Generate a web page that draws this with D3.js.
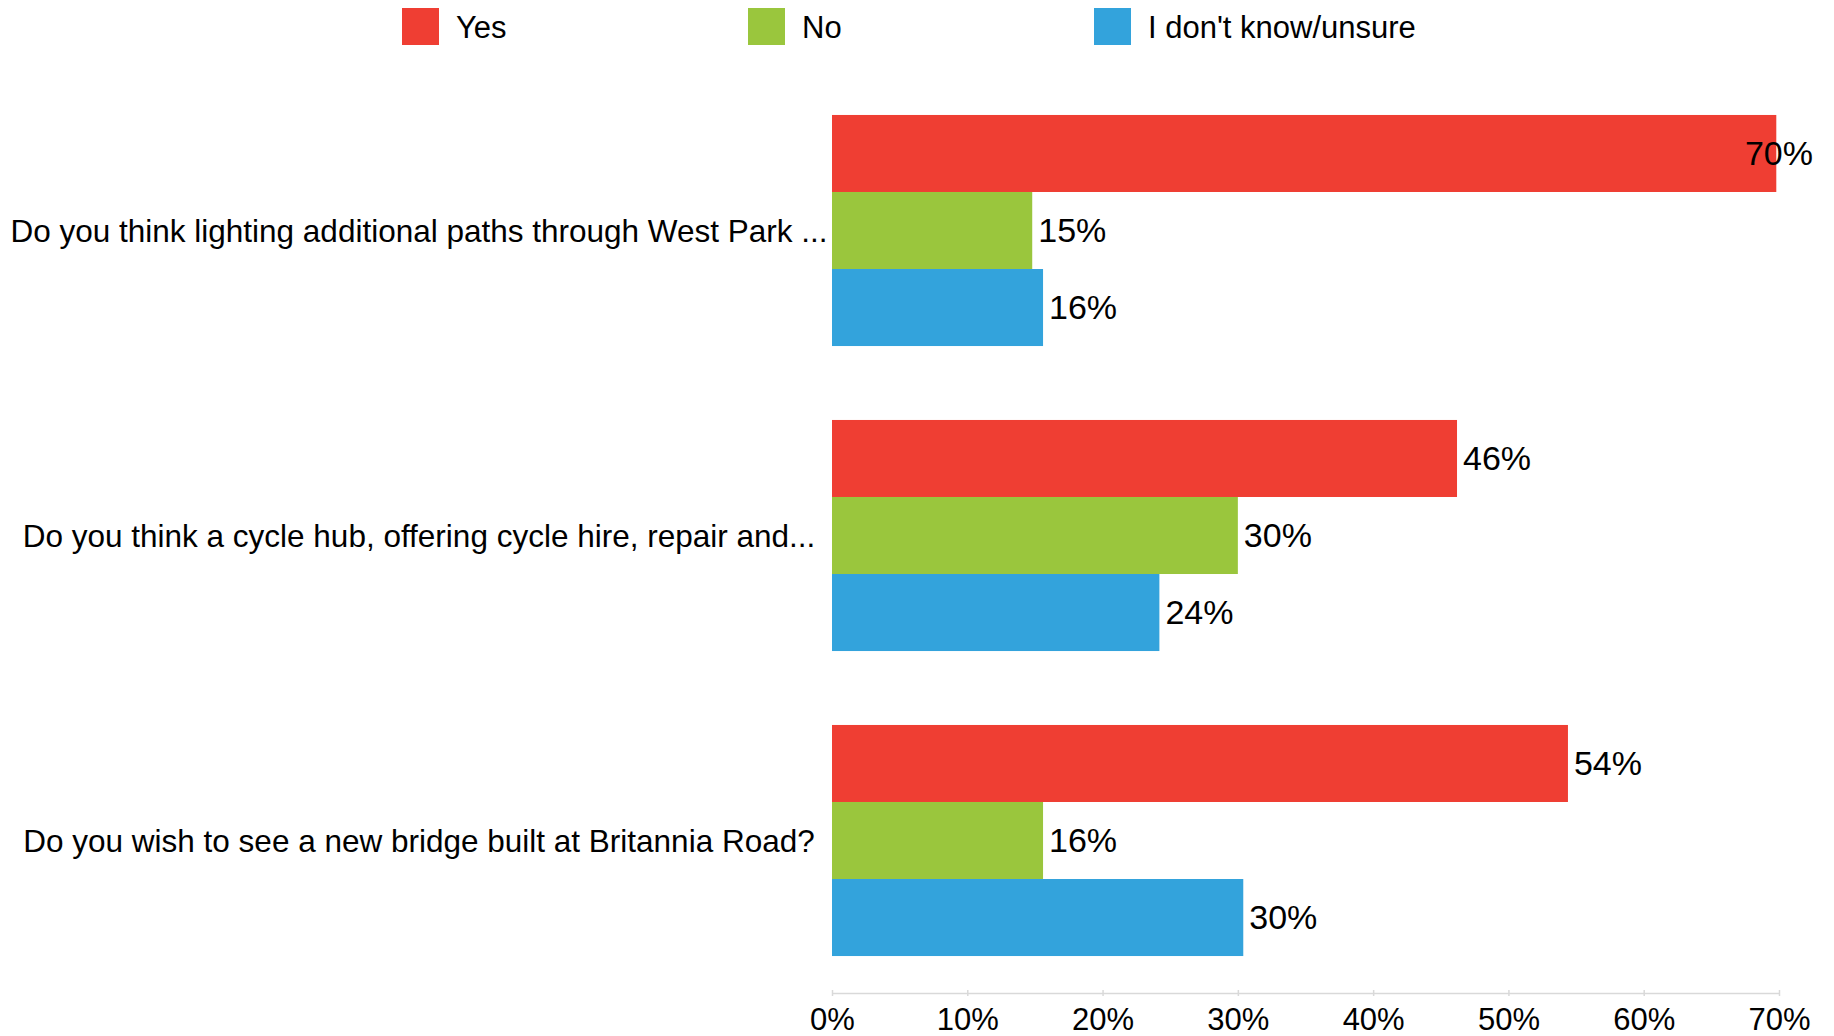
<!DOCTYPE html>
<html>
<head>
<meta charset="utf-8">
<script src="https://cdn.jsdelivr.net/npm/d3@7"></script>
<style>
  html, body { margin: 0; padding: 0; background: #fff; }
  svg { display: block; font-family: "Liberation Sans", Arial, sans-serif; }
</style>
</head>
<body>
<svg id="chart" width="1834" height="1036"></svg>
<script>
// Survey questions (one group of bars each)
const questions = [
  "Do you think lighting additional paths through West Park ...",
  "Do you think a cycle hub, offering cycle hire, repair and...",
  "Do you wish to see a new bridge built at Britannia Road?"
];

// Answer options
const answers = ["Yes", "No", "I don't know/unsure"];

// Share of respondents (%) per question, one array per answer
const yesValues    = [69.8, 46.2, 54.4];
const noValues     = [14.8, 30.0, 15.6];
const unsureValues = [15.6, 24.2, 30.4];

// X axis tick values (%)
const tickValues = [0, 10, 20, 30, 40, 50, 60, 70];

const colors = ["#EF3E33", "#9AC63D", "#33A3DC"];

const series = [yesValues, noValues, unsureValues];
const rows = questions.map((q, i) => ({
  question: q,
  values: answers.map((a, j) => ({ answer: a, value: series[j][i] }))
}));

const svg = d3.select("#chart");
const W = 1834, H = 1036;
const margin = { top: 78, right: 55, bottom: 43, left: 832 };

const x = d3.scaleLinear().domain([0, 70]).range([margin.left, W - margin.right]);
const y0 = d3.scaleBand().domain(questions).range([margin.top, H - margin.bottom]).padding(0);
const y1 = d3.scaleBand().domain(answers).range([0, y0.bandwidth()]).paddingInner(0).paddingOuter(0.48);
const color = d3.scaleOrdinal().domain(answers).range(colors);

const legendFont = 31;
const questionFont = 31.5;
const valueFont = 34;
const tickFont = 31;

// Legend
const legend = svg.append("g").attr("class", "legend");
const legendX = d3.scalePoint().domain(answers).range([402, 1094]);
answers.forEach(a => {
  const g = legend.append("g").attr("transform", `translate(${legendX(a)},8)`);
  g.append("rect").attr("width", 37).attr("height", 37).attr("fill", color(a));
  g.append("text").attr("x", 54).attr("y", 19).attr("dy", "0.35em")
    .attr("font-size", legendFont).attr("fill", "#000").text(a);
});

// Bars
const groups = svg.append("g").selectAll("g.group").data(rows).join("g")
  .attr("class", "group")
  .attr("transform", d => `translate(0,${y0(d.question)})`);

groups.selectAll("rect").data(d => d.values).join("rect")
  .attr("x", x(0))
  .attr("y", d => y1(d.answer))
  .attr("width", d => x(d.value) - x(0))
  .attr("height", y1.bandwidth())
  .attr("fill", d => color(d.answer));

// Value labels, kept inside the chart's right edge
const maxRight = W - 21;
groups.selectAll("text.value").data(d => d.values).join("text")
  .attr("class", "value")
  .attr("font-size", valueFont)
  .attr("fill", "#000")
  .attr("y", d => y1(d.answer) + y1.bandwidth() / 2)
  .attr("dy", "0.35em")
  .text(d => Math.round(d.value) + "%")
  .each(function(d) {
    const w = this.getComputedTextLength();
    let lx = x(d.value) + 6;
    if (lx + w > maxRight) lx = maxRight - w;
    d3.select(this).attr("x", lx);
  });

// Question labels
svg.append("g").selectAll("text.question").data(rows).join("text")
  .attr("class", "question")
  .attr("x", 419)
  .attr("y", d => y0(d.question) + y0.bandwidth() / 2)
  .attr("dy", "0.35em")
  .attr("text-anchor", "middle")
  .attr("font-size", questionFont)
  .attr("fill", "#000")
  .text(d => d.question);

// X axis
const xAxis = d3.axisBottom(x)
  .tickValues(tickValues)
  .tickFormat(d => d + "%")
  .tickSizeInner(0)
  .tickSizeOuter(0)
  .tickPadding(0);

const axisG = svg.append("g")
  .attr("transform", `translate(0,${H - margin.bottom})`)
  .call(xAxis);
axisG.select(".domain").attr("stroke", "#D9D9D9").attr("stroke-width", 1.5);
axisG.selectAll(".tick line").attr("y1", -3).attr("y2", 3).attr("stroke", "#D9D9D9").attr("stroke-width", 1.5);
axisG.selectAll(".tick text")
  .attr("font-family", "Liberation Sans, Arial, sans-serif")
  .attr("font-size", tickFont)
  .attr("fill", "#000")
  .attr("y", 26)
  .attr("dy", "0.35em");
</script>
</body>
</html>
